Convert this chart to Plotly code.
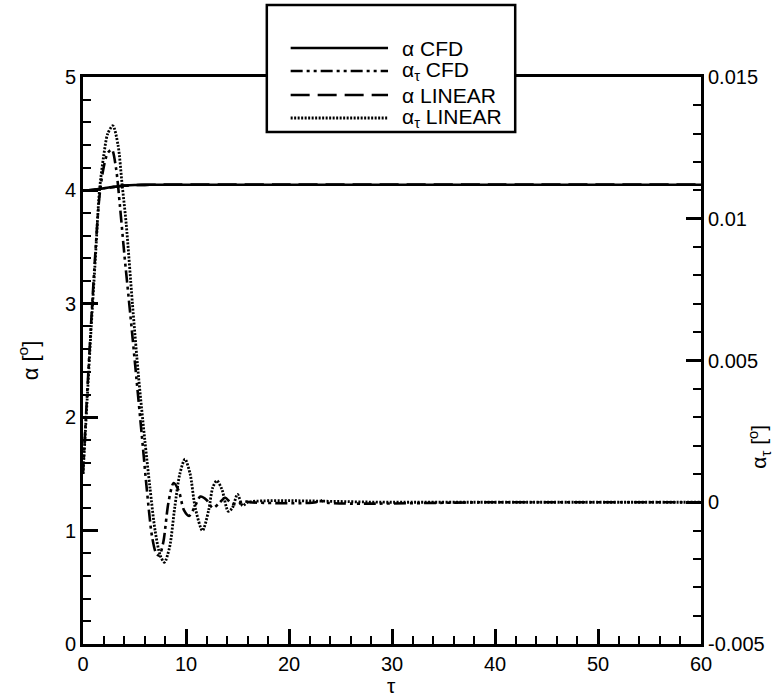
import plotly.graph_objects as go

# Angle of attack histories (degrees) against non-dimensional time tau
tau_alpha = [0, 0.5, 1.0, 1.5, 2.0, 2.5, 3.0, 3.5, 4.0, 4.5, 5.0, 6.0, 7.0, 8.0, 20, 40, 60]
alpha_cfd = [4.0, 4.0015, 4.005, 4.011, 4.018, 4.025, 4.031, 4.037, 4.042, 4.045, 4.047,
             4.049, 4.05, 4.05, 4.05, 4.05, 4.05]
alpha_linear = [4.0, 4.0015, 4.005, 4.011, 4.018, 4.025, 4.031, 4.037, 4.042, 4.045, 4.047,
                4.049, 4.05, 4.051, 4.051, 4.051, 4.051]

# Pitch-rate histories (right axis)
tau_rate_cfd = [0, 0.4, 0.8, 1.2, 1.6, 2.0, 2.4, 2.8, 3.2, 3.6, 4.0, 4.6, 5.2, 5.7, 6.2,
                6.7, 7.1, 7.4, 7.8, 8.3, 8.8, 9.3, 9.8, 10.3, 10.8, 11.4, 12.0, 12.6,
                13.2, 13.8, 14.4, 15.0, 15.6, 16.2, 22.6, 23.0, 23.4, 40, 60]
alpha_tau_cfd = [0.0010, 0.0038, 0.0064, 0.0088, 0.0108, 0.0118, 0.01232, 0.01244, 0.0118,
                 0.0104, 0.0088, 0.0066, 0.00432, 0.0024, 0.00044, -0.0012, -0.0018,
                 -0.00188, -0.0014, 0.0, 0.00068, 0.0004, -0.00028, -0.00048, -0.0002,
                 0.0002, 0.00008, -0.0002, -0.00004, 0.00016, -0.00004, -0.00008,
                 0.00004, 0.0, 0.0, 0.00008, 0.0, 0.0, 0.0]

tau_rate_linear = [0, 0.4, 0.8, 1.2, 1.6, 2.0, 2.4, 2.9, 3.4, 3.8, 4.2, 4.8, 5.4, 6.0, 6.5,
                   7.0, 7.5, 7.9, 8.4, 8.9, 9.4, 9.9, 10.4, 10.9, 11.6, 12.2, 12.6, 13.0,
                   13.5, 14.1, 14.5, 15.0, 15.5, 16.0, 30, 60]
alpha_tau_linear = [0.0010, 0.0036, 0.0062, 0.0086, 0.0110, 0.0122, 0.0130, 0.01328, 0.0126,
                    0.0112, 0.0098, 0.0070, 0.0044, 0.0022, 0.00052, -0.0010, -0.00188,
                    -0.00212, -0.0016, -0.0002, 0.0010, 0.00152, 0.0010, -0.0002, -0.0010,
                    -0.00028, 0.00052, 0.00076, 0.00044, -0.00032, -0.0002, 0.00028,
                    -0.00012, 0.0, 0.0, 0.0]

x_ticks = [0, 10, 20, 30, 40, 50, 60]
left_ticks = [0, 1, 2, 3, 4, 5]
right_tickvals = [-0.005, 0, 0.005, 0.01, 0.015]
right_ticktext = ["-0.005", "0", "0.005", "0.01", "0.015"]

FONT = "Liberation Sans, Arial, Helvetica, sans-serif"
W, H = 777, 696
L, R, T, B = 83, 72, 77, 52
PW, PH = W - L - R, H - T - B


def px_x(p):
    return (p - L) / PW


def px_y(p):
    return (H - B - p) / PH


dash_dot_dot = "12px,4px,3px,4px,3px,4px"
dashed = "19px,8px"
dotted = "2px,1.5px"

fig = go.Figure()
fig.add_trace(go.Scatter(x=tau_alpha, y=alpha_cfd, mode="lines", name="α CFD",
                         line=dict(color="black", width=2.6, shape="spline")))
fig.add_trace(go.Scatter(x=tau_alpha, y=alpha_linear, mode="lines", name="α LINEAR",
                         line=dict(color="black", width=2.6, dash=dashed, shape="spline")))
fig.add_trace(go.Scatter(x=tau_rate_cfd, y=alpha_tau_cfd, mode="lines", name="ατ CFD",
                         yaxis="y2",
                         line=dict(color="black", width=2.6, dash=dash_dot_dot,
                                   shape="spline", smoothing=0.8)))
fig.add_trace(go.Scatter(x=tau_rate_linear, y=alpha_tau_linear, mode="lines",
                         name="ατ LINEAR", yaxis="y2",
                         line=dict(color="black", width=2.8, dash=dotted,
                                   shape="spline", smoothing=0.8)))

minor_common = dict(ticks="inside", ticklen=8, tickwidth=1.5, tickcolor="black")

fig.update_layout(
    width=W, height=H,
    margin=dict(l=L, r=R, t=T, b=B),
    paper_bgcolor="white", plot_bgcolor="white",
    showlegend=False,
    font=dict(family=FONT, size=20, color="black"),
    xaxis=dict(range=[0, 60], tickvals=x_ticks, ticks="inside", ticklen=15,
               tickwidth=2.5, tickcolor="black", showline=True, linewidth=3,
               linecolor="black", mirror=True, showgrid=False, zeroline=False,
               minor=dict(dtick=2, **minor_common)),
    yaxis=dict(range=[0, 5], tickvals=left_ticks, ticks="inside", ticklen=15,
               tickwidth=2.5, tickcolor="black", showline=True, linewidth=3,
               linecolor="black", showgrid=False, zeroline=False,
               minor=dict(dtick=0.2, **minor_common)),
    yaxis2=dict(range=[-0.005, 0.015], overlaying="y", side="right",
                tickvals=right_tickvals, ticktext=right_ticktext, ticks="inside",
                ticklen=15, tickwidth=2.5, tickcolor="black", showline=True,
                linewidth=3, linecolor="black", showgrid=False, zeroline=False,
                minor=dict(dtick=0.001, **minor_common)),
)

# Axis titles
fig.add_annotation(text="α [<sup>o</sup>]", xref="paper", yref="paper",
                   x=px_x(28), y=px_y(360), textangle=-90, showarrow=False,
                   xanchor="center", yanchor="middle", font=dict(size=22))
fig.add_annotation(text="α<sub>τ</sub> [<sup>o</sup>]", xref="paper", yref="paper",
                   x=px_x(763), y=px_y(447), textangle=-90, showarrow=False,
                   xanchor="center", yanchor="middle", font=dict(size=21))
fig.add_annotation(text="τ", xref="paper", yref="paper",
                   x=px_x(393), y=px_y(686), showarrow=False,
                   xanchor="center", yanchor="middle", font=dict(size=21))

# Legend box with long line samples
fig.add_shape(type="rect", xref="paper", yref="paper",
              x0=px_x(268), x1=px_x(518), y0=px_y(132), y1=px_y(5),
              line=dict(color="black", width=2.5), fillcolor="white", layer="above")

legend_rows = [
    ("α CFD", None, 2.6),
    ("α<sub>τ</sub> CFD", dash_dot_dot, 2.6),
    ("α LINEAR", dashed, 2.6),
    ("α<sub>τ</sub> LINEAR", dotted, 2.8),
]
row_y = [48, 71, 95, 118]
for (label, dash, wdt), yy in zip(legend_rows, row_y):
    line = dict(color="black", width=wdt)
    if dash:
        line["dash"] = dash
    fig.add_shape(type="line", xref="paper", yref="paper",
                  x0=px_x(292), x1=px_x(390), y0=px_y(yy), y1=px_y(yy),
                  line=line, layer="above")
    fig.add_annotation(text=label, xref="paper", yref="paper",
                       x=px_x(402), y=px_y(yy), showarrow=False,
                       xanchor="left", yanchor="middle", font=dict(size=21))

fig.write_html("out.html")
